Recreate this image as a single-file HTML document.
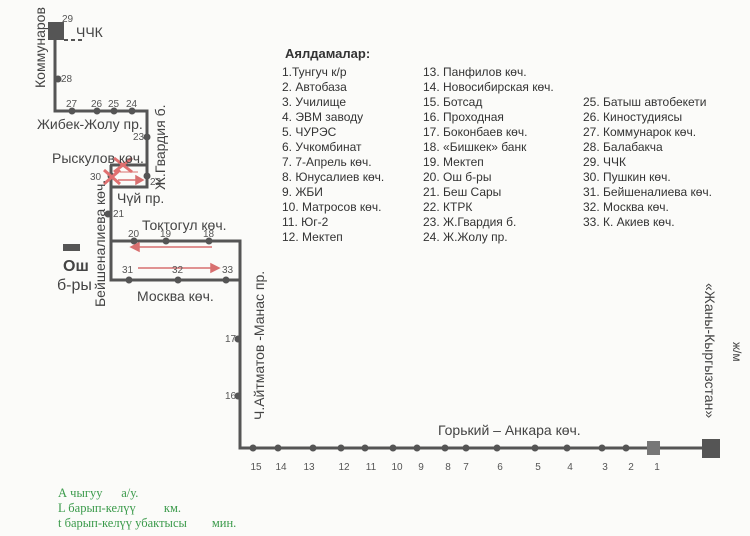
<!DOCTYPE html>
<html><head><meta charset="utf-8"><style>
html,body{margin:0;padding:0;background:#fbfbf9;}
svg{display:block;font-family:"Liberation Sans",sans-serif;}
</style></head><body>
<svg width="750" height="536" viewBox="0 0 750 536" xmlns="http://www.w3.org/2000/svg">
<rect width="750" height="536" fill="#fbfbf9"/>
<g stroke="#555" stroke-width="3" fill="none">
<polyline points="55,30 55,111 147,111 147,187 110,187"/>
<polyline points="110,165 147,165"/>
<polyline points="111,165 111,280 240,280"/>
<polyline points="111,241 240,241 240,448 711,448"/>
</g>
<line x1="64" y1="40" x2="82" y2="40" stroke="#555" stroke-width="2" stroke-dasharray="4,3"/>
<rect x="48" y="22" width="16" height="18" fill="#555"/>
<rect x="647" y="441" width="13" height="14" fill="#777"/>
<rect x="702" y="439" width="18" height="19" fill="#555"/>
<rect x="63" y="244" width="17" height="7" fill="#555"/>
<g fill="#555">
<circle cx="58" cy="79" r="3.5"/>
<circle cx="72" cy="111" r="3.5"/><circle cx="97" cy="111" r="3.5"/><circle cx="114" cy="111" r="3.5"/><circle cx="132" cy="111" r="3.5"/>
<circle cx="147" cy="137" r="3.5"/><circle cx="147" cy="176" r="3.5"/><circle cx="111" cy="176" r="3.5"/><circle cx="108" cy="214" r="3.5"/>
<circle cx="134" cy="241" r="3.5"/><circle cx="166" cy="241" r="3.5"/><circle cx="209" cy="241" r="3.5"/>
<circle cx="129" cy="280" r="3.5"/><circle cx="178" cy="280" r="3.5"/><circle cx="226" cy="280" r="3.5"/>
<circle cx="238" cy="396" r="3.5"/><circle cx="238" cy="339" r="3.5"/>
<circle cx="253" cy="448" r="3.5"/><circle cx="278" cy="448" r="3.5"/><circle cx="313" cy="448" r="3.5"/><circle cx="341" cy="448" r="3.5"/><circle cx="365" cy="448" r="3.5"/><circle cx="393" cy="448" r="3.5"/><circle cx="417" cy="448" r="3.5"/><circle cx="445" cy="448" r="3.5"/><circle cx="466" cy="448" r="3.5"/><circle cx="497" cy="448" r="3.5"/><circle cx="535" cy="448" r="3.5"/><circle cx="567" cy="448" r="3.5"/><circle cx="602" cy="448" r="3.5"/><circle cx="626" cy="448" r="3.5"/>
</g>
<g stroke="#d87070" stroke-width="1.5" fill="#d87070">
<line x1="212" y1="247" x2="136" y2="247"/><polygon points="131,247 139,243 139,251"/>
<line x1="138" y1="268" x2="214" y2="268"/><polygon points="219,268 211,264 211,272"/>
<line x1="118" y1="180" x2="138" y2="180"/><polygon points="143,180 136,176 136,184"/>
<line x1="120" y1="172" x2="138" y2="172" stroke-width="1"/>
</g>
<g stroke="#e07070" stroke-width="3">
<line x1="114" y1="158" x2="132" y2="172"/><line x1="132" y1="158" x2="114" y2="172"/>
<line x1="104" y1="170" x2="120" y2="184"/><line x1="120" y1="170" x2="104" y2="184"/>
</g>
<g fill="#555" font-size="10">
<text x="62" y="22">29</text><text x="61" y="82">28</text>
<text x="66" y="107">27</text><text x="91" y="107">26</text><text x="108" y="107">25</text><text x="126" y="107">24</text>
<text x="133" y="140">23</text><text x="150" y="185">22</text><text x="90" y="180">30</text><text x="113" y="217">21</text>
<text x="128" y="237">20</text><text x="160" y="237">19</text><text x="203" y="237">18</text>
<text x="122" y="273">31</text><text x="172" y="273">32</text><text x="222" y="273">33</text>
<text x="225" y="342">17</text><text x="225" y="399">16</text>
<g text-anchor="middle">
<text x="256" y="470">15</text><text x="281" y="470">14</text><text x="309" y="470">13</text><text x="344" y="470">12</text><text x="371" y="470">11</text><text x="397" y="470">10</text><text x="421" y="470">9</text><text x="448" y="470">8</text><text x="466" y="470">7</text><text x="500" y="470">6</text><text x="538" y="470">5</text><text x="570" y="470">4</text><text x="605" y="470">3</text><text x="631" y="470">2</text><text x="657" y="470">1</text>
</g>
</g>
<g fill="#444" font-size="14">
<text x="76" y="37">ЧЧК</text>
<text x="37" y="129">Жибек-Жолу пр.</text>
<text x="52" y="163">Рыскулов көч.</text>
<text x="117" y="203">Чүй пр.</text>
<text x="142" y="230">Токтогул көч.</text>
<text x="137" y="301">Москва көч.</text>
<text x="438" y="435">Горький – Анкара көч.</text>
<text x="63" y="271" font-size="16" font-weight="bold">Ош</text>
<text x="57" y="290" font-size="16">б-ры</text>
<text transform="translate(45,88) rotate(-90)">Коммунаров</text>
<text transform="translate(165,190) rotate(-90)">Ж.Гвардия б.</text>
<text transform="translate(105,307) rotate(-90)">Бейшеналиева көч.</text>
<text transform="translate(264,420) rotate(-90)">Ч.Айтматов -Манас пр.</text>
<text transform="translate(705,283) rotate(90)">«Жаны-Кыргызстан»</text>
<text transform="translate(733,342) rotate(90)" font-size="12">ж/м</text>
</g>
<g fill="#333" font-size="12">
<text x="285" y="58" font-weight="bold" font-size="13">Аялдамалар:</text>
<text x="282" y="76">1.Тунгуч к/р</text><text x="282" y="91">2. Автобаза</text><text x="282" y="106">3. Училище</text><text x="282" y="121">4.  ЭВМ заводу</text><text x="282" y="136">5. ЧУРЭС</text><text x="282" y="151">6. Учкомбинат</text><text x="282" y="166">7. 7-Апрель көч.</text><text x="282" y="181">8. Юнусалиев көч.</text><text x="282" y="196">9. ЖБИ</text><text x="282" y="211">10. Матросов көч.</text><text x="282" y="226">11. Юг-2</text><text x="282" y="241">12. Мектеп</text>
<text x="423" y="76">13. Панфилов көч.</text><text x="423" y="91">14. Новосибирская көч.</text><text x="423" y="106">15. Ботсад</text><text x="423" y="121">16. Проходная</text><text x="423" y="136">17. Боконбаев көч.</text><text x="423" y="151">18.  «Бишкек» банк</text><text x="423" y="166">19. Мектеп</text><text x="423" y="181">20. Ош б-ры</text><text x="423" y="196">21. Беш Сары</text><text x="423" y="211">22. КТРК</text><text x="423" y="226">23. Ж.Гвардия б.</text><text x="423" y="241">24. Ж.Жолу пр.</text>
<text x="583" y="106">25. Батыш автобекети</text><text x="583" y="121">26. Киностудиясы</text><text x="583" y="136">27. Коммунарок көч.</text><text x="583" y="151">28. Балабакча</text><text x="583" y="166">29. ЧЧК</text><text x="583" y="181">30. Пушкин көч.</text><text x="583" y="196">31. Бейшеналиева көч.</text><text x="583" y="211">32. Москва көч.</text><text x="583" y="226">33. К. Акиев көч.</text>
</g>
<g fill="#3a9a4a" font-family="Liberation Serif,serif" font-size="12.5">
<text x="58" y="497">А чыгуу&#160;&#160;&#160;&#160;&#160; а/у.</text>
<text x="58" y="512">L барып-келүү&#160;&#160;&#160;&#160;&#160;&#160;&#160;&#160; км.</text>
<text x="58" y="527">t барып-келүү убактысы&#160;&#160;&#160;&#160;&#160;&#160;&#160; мин.</text>
</g>
</svg>
</body></html>
